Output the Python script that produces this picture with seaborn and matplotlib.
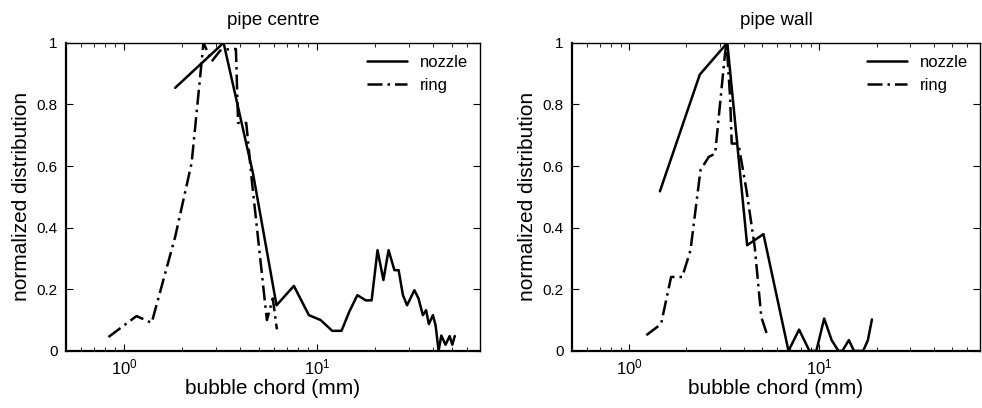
import pandas as pd
import matplotlib
matplotlib.use("Agg")
import matplotlib.pyplot as plt
import seaborn as sns

# pipe centre
centre_nozzle_x = [1.84, 3.28, 4.66, 6.17, 7.59, 9.08, 10.45, 12.0, 13.4, 14.7, 16.2, 17.9,
                   19.2, 20.6, 22.1, 23.5, 25.2, 26.5, 27.9, 29.3, 32.0, 33.6, 35.4, 36.8,
                   38.0, 39.9, 41.2, 42.7, 44.1, 46.4, 48.7, 50.3, 51.8]
centre_nozzle_y = [0.854, 1.0, 0.576, 0.148, 0.211, 0.116, 0.100, 0.065, 0.065, 0.127, 0.181, 0.164,
                   0.164, 0.327, 0.230, 0.327, 0.262, 0.262, 0.181, 0.148, 0.197, 0.170, 0.116, 0.132,
                   0.087, 0.116, 0.083, 0.0, 0.050, 0.020, 0.048, 0.020, 0.048]
centre_ring_x = [0.83, 1.16, 1.39, 1.84, 2.24, 2.48, 2.58, 2.85, 3.15, 3.55, 3.8, 3.9, 4.3,
                 4.6, 5.5, 5.9, 6.2]
centre_ring_y = [0.045, 0.113, 0.091, 0.37, 0.61, 0.89, 1.0, 0.94, 0.975, 0.98, 0.98, 0.74, 0.74,
                 0.55, 0.10, 0.17, 0.07]

# pipe wall
wall_nozzle_x = [1.45, 2.35, 3.28, 4.17, 5.08, 6.88, 7.82, 8.87, 9.64, 10.6, 11.6, 12.6, 13.2,
                 14.3, 15.2, 17.0, 18.0, 18.9]
wall_nozzle_y = [0.518, 0.897, 1.0, 0.343, 0.379, 0.0, 0.069, 0.0, 0.0, 0.105, 0.035, 0.0, 0.0,
                 0.035, 0.0, 0.0, 0.035, 0.102]
wall_ring_x = [1.23, 1.47, 1.66, 1.90, 2.10, 2.37, 2.62, 2.83, 3.19, 3.25, 3.39, 3.46, 3.75,
               4.14, 4.57, 4.95, 5.36]
wall_ring_y = [0.051, 0.087, 0.24, 0.24, 0.327, 0.587, 0.63, 0.64, 0.966, 1.0, 0.825, 0.673, 0.673,
               0.52, 0.338, 0.11, 0.045]

titles = ["pipe centre", "pipe wall"]
series_names = ["nozzle", "ring"]

sns.set_theme(style="white")
plt.rcParams["font.family"] = ["Liberation Sans", "DejaVu Sans"]
plt.rcParams["mathtext.fontset"] = "custom"
plt.rcParams["mathtext.rm"] = "Liberation Sans"
for key in ["text.color", "axes.labelcolor", "xtick.color", "ytick.color"]:
    plt.rcParams[key] = "black"


def make_frame(nx, ny, rx, ry):
    return pd.concat([
        pd.DataFrame({"chord": nx, "dist": ny, "source": series_names[0]}),
        pd.DataFrame({"chord": rx, "dist": ry, "source": series_names[1]}),
    ])


frames = [
    make_frame(centre_nozzle_x, centre_nozzle_y, centre_ring_x, centre_ring_y),
    make_frame(wall_nozzle_x, wall_nozzle_y, wall_ring_x, wall_ring_y),
]

fig = plt.figure(figsize=(9.82, 4.08), dpi=100)
positions = [[0.0672, 0.14, 0.4216, 0.755], [0.5825, 0.14, 0.4155, 0.755]]

for pos, df, title in zip(positions, frames, titles):
    ax = fig.add_axes(pos)
    sns.lineplot(
        data=df,
        x="chord",
        y="dist",
        hue="source",
        style="source",
        palette=["black", "black"],
        dashes={"nozzle": "", "ring": (6, 2, 1, 2)},
        estimator=None,
        sort=False,
        linewidth=1.8,
        ax=ax,
    )
    ax.set_xscale("log")
    ax.set_xlim(0.5, 70)
    ax.set_ylim(0, 1)
    ax.set_yticks([0, 0.2, 0.4, 0.6, 0.8, 1.0])
    ax.set_yticklabels(["0", "0.2", "0.4", "0.6", "0.8", "1"])
    ax.tick_params(which="both", direction="in", top=True, right=True,
                   bottom=True, left=True, labelsize=11, pad=6, colors="black")
    ax.tick_params(axis="x", labelsize=12, pad=5)
    ax.tick_params(which="major", length=5, width=0.8)
    ax.tick_params(which="minor", length=3, width=0.6)
    ax.set_xlabel("bubble chord (mm)", fontsize=15, labelpad=1)
    ax.set_ylabel("normalized distribution", fontsize=15)
    ax.set_title(title, fontsize=13.5, pad=13)
    for s in ax.spines.values():
        s.set_color("black")
        s.set_linewidth(1.0)
    ax.spines["left"].set_linewidth(1.6)
    ax.spines["bottom"].set_linewidth(1.6)
    leg = ax.legend(loc="upper right", frameon=False, fontsize=12,
                    handlelength=2.4, borderaxespad=0.3)
    leg.set_title(None)

fig.savefig("out.png", dpi=100)
